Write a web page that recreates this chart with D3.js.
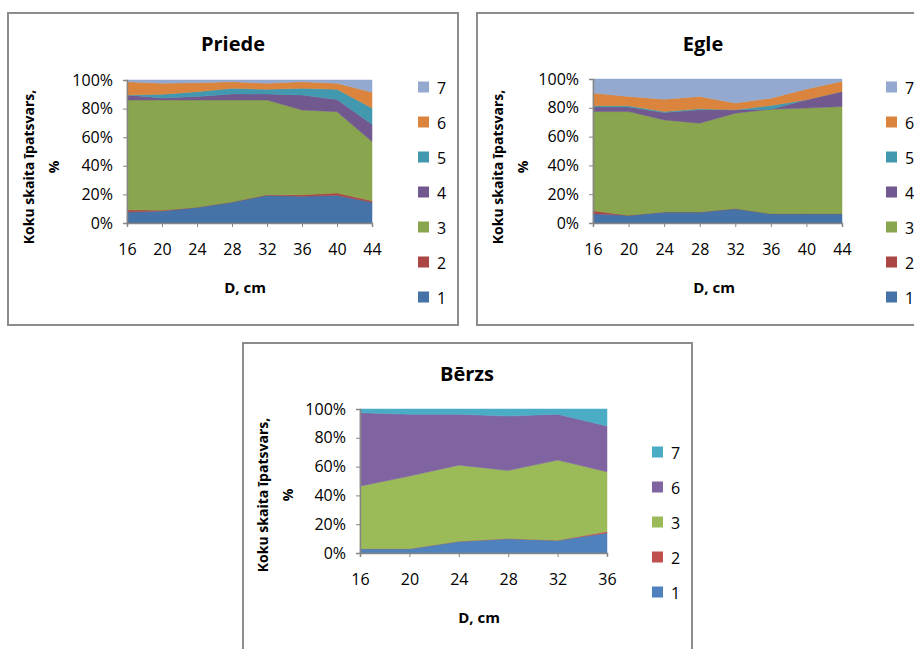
<!DOCTYPE html>
<html>
<head>
<meta charset="utf-8">
<script src="https://cdn.jsdelivr.net/npm/d3@7"></script>
<style>
  html, body { margin: 0; padding: 0; background: #fff; }
  svg { display: block; font-family: "Open Sans", "Noto Sans", sans-serif; }
</style>
</head>
<body>
<svg id="chart" width="914" height="649"></svg>
<script>
// ---------- data ----------
const diametersPE = [16, 20, 24, 28, 32, 36, 40, 44];
const diametersB = [16, 20, 24, 28, 32, 36];
const yTicks = [0, 20, 40, 60, 80, 100];

// Priede (share, %)
const priede1 = [7.7, 8.4, 11.0, 14.7, 19.4, 18.7, 19.4, 14.5];
const priede2 = [1.5, 0.5, 0.0, 0.0, 0.3, 1.0, 1.5, 1.0];
const priede3 = [76.8, 77.1, 75.0, 71.3, 66.3, 59.3, 56.9, 41.5];
const priede4 = [3.5, 1.5, 2.5, 4.2, 4.2, 10.5, 8.6, 12.0];
const priede5 = [0.0, 2.5, 3.3, 4.0, 3.3, 4.7, 7.1, 11.5];
const priede6 = [9.3, 7.7, 6.3, 4.6, 4.2, 4.6, 4.2, 11.0];
const priede7 = [1.2, 2.3, 1.9, 1.2, 2.3, 1.2, 2.3, 8.5];

// Egle
const egle1 = [6.5, 5.3, 7.7, 7.7, 10.0, 6.5, 6.5, 6.5];
const egle2 = [2.0, 0.0, 0.0, 0.0, 0.0, 0.0, 0.0, 0.0];
const egle3 = [68.9, 72.1, 63.9, 61.6, 66.3, 72.5, 73.3, 74.4];
const egle4 = [3.1, 3.1, 5.1, 9.3, 2.3, 0.0, 5.8, 10.5];
const egle5 = [0.9, 0.9, 0.7, 0.7, 0.0, 2.6, 0.0, 0.0];
const egle6 = [8.8, 6.5, 8.6, 8.6, 4.7, 5.1, 7.4, 7.0];
const egle7 = [9.8, 12.1, 14.0, 12.1, 16.7, 13.3, 7.0, 1.6];

// Bērzs
const berzs1 = [3.0, 3.0, 8.1, 10.0, 8.8, 13.9];
const berzs2 = [0.0, 0.0, 0.0, 0.0, 0.0, 1.0];
const berzs3 = [43.4, 50.4, 52.9, 47.3, 55.7, 41.5];
const berzs6 = [51.0, 42.9, 35.3, 37.8, 31.8, 31.8];
const berzs7 = [2.6, 3.7, 3.7, 4.9, 3.7, 11.8];

const keysPE = ["1", "2", "3", "4", "5", "6", "7"];
const keysB = ["1", "2", "3", "6", "7"];

const colorsPE = {"1": "#4572A7", "2": "#AA4643", "3": "#89A54E", "4": "#71588F",
                  "5": "#4198AF", "6": "#DB843D", "7": "#93A9CF"};
const colorsB = {"1": "#4F81BD", "2": "#C0504D", "3": "#9BBB59", "6": "#8064A2", "7": "#4BACC6"};

// ---------- drawing ----------
const svg = d3.select("#chart");

function buildRows(xs, keys, seriesArr) {
  return xs.map((x, i) => {
    const row = {d: x};
    keys.forEach((k, j) => row[k] = seriesArr[j][i]);
    return row;
  });
}

function drawChart(cfg) {
  const g = svg.append("g");
  // frame
  g.append("rect")
    .attr("x", cfg.box[0]).attr("y", cfg.box[1])
    .attr("width", cfg.box[2]).attr("height", cfg.box[3])
    .attr("fill", "#fff").attr("stroke", "#8c8c8c").attr("stroke-width", 2);

  const x = d3.scaleLinear().domain(d3.extent(cfg.xs)).range([cfg.plot[0], cfg.plot[1]]);
  const y = d3.scaleLinear().domain([0, 100]).range([cfg.plot[3], cfg.plot[2]]);

  const rows = buildRows(cfg.xs, cfg.keys, cfg.series);
  const stack = d3.stack().keys(cfg.keys)(rows);
  const area = d3.area()
    .x(d => x(d.data.d))
    .y0(d => y(d[0]))
    .y1(d => y(d[1]));

  g.selectAll("path.layer").data(stack).enter().append("path")
    .attr("class", "layer")
    .attr("d", area)
    .attr("fill", d => cfg.colors[d.key])
    .attr("stroke", d => cfg.colors[d.key])
    .attr("stroke-width", 0.5);

  // y axis
  const yAxis = d3.axisLeft(y).tickValues(yTicks).tickFormat(d => d + "%").tickSize(4).tickPadding(10);
  const ya = g.append("g").attr("transform", `translate(${cfg.plot[0]},0)`).call(yAxis);
  ya.select(".domain").attr("stroke", "#868686").attr("stroke-width", 1.5);
  ya.selectAll(".tick line").attr("stroke", "#868686");
  ya.selectAll("text").attr("font-size", 16).attr("fill", "#000")
    .attr("font-family", "'Open Sans', sans-serif");

  // x axis
  const xAxis = d3.axisBottom(x).tickValues(cfg.xs).tickFormat(d3.format("d")).tickSize(4).tickPadding(17);
  const xa = g.append("g").attr("transform", `translate(0,${cfg.plot[3]})`).call(xAxis);
  xa.select(".domain").attr("stroke", "#868686").attr("stroke-width", 1.5);
  xa.selectAll(".tick line").attr("stroke", "#868686");
  xa.selectAll("text").attr("font-size", 16).attr("fill", "#000")
    .attr("font-family", "'Open Sans', sans-serif");

  // title
  g.append("text").attr("x", cfg.title[1]).attr("y", cfg.title[2])
    .attr("text-anchor", "middle").attr("dominant-baseline", "central")
    .attr("font-size", 20).attr("font-weight", "bold").text(cfg.title[0]);

  // x axis title
  g.append("text").attr("x", cfg.xTitle[0]).attr("y", cfg.xTitle[1])
    .attr("text-anchor", "middle").attr("dominant-baseline", "central")
    .attr("font-size", 15).attr("font-weight", "bold").text("D, cm");

  // y axis title (two lines)
  const yt = g.append("text")
    .attr("transform", `translate(${cfg.yTitle[0]},${cfg.yTitle[1]}) rotate(-90)`)
    .attr("text-anchor", "middle").attr("font-size", 14).attr("font-weight", "bold");
  yt.append("tspan").attr("x", 0).attr("y", 0).attr("dominant-baseline", "central").text("Koku  skaita īpatsvars,");
  yt.append("tspan").attr("x", 0).attr("y", 25).attr("dominant-baseline", "central").text("%");

  // legend (reverse order, top = last key)
  const legKeys = cfg.keys.slice().reverse();
  const lg = g.append("g");
  legKeys.forEach((k, i) => {
    const cy = cfg.legend[1] + i * 35;
    lg.append("rect").attr("x", cfg.legend[0]).attr("y", cy - 5.5)
      .attr("width", 11).attr("height", 11).attr("fill", cfg.colors[k]);
    lg.append("text").attr("x", cfg.legend[0] + 19).attr("y", cy + 1)
      .attr("dominant-baseline", "central").attr("font-size", 16).text(k);
  });
}

drawChart({
  box: [8, 13, 450, 312],
  plot: [127, 372, 80, 223],
  xs: diametersPE, keys: keysPE,
  series: [priede1, priede2, priede3, priede4, priede5, priede6, priede7],
  colors: colorsPE,
  title: ["Priede", 233, 43],
  xTitle: [245, 287],
  yTitle: [28, 167],
  legend: [418, 87]
});

drawChart({
  box: [477, 13, 470, 312],
  plot: [593, 842, 79, 223],
  xs: diametersPE, keys: keysPE,
  series: [egle1, egle2, egle3, egle4, egle5, egle6, egle7],
  colors: colorsPE,
  title: ["Egle", 703, 43],
  xTitle: [714, 287],
  yTitle: [497, 167],
  legend: [886, 87]
});

drawChart({
  box: [243, 343, 449, 340],
  plot: [360, 607, 409, 553],
  xs: diametersB, keys: keysB,
  series: [berzs1, berzs2, berzs3, berzs6, berzs7],
  colors: colorsB,
  title: ["Bērzs", 467, 373],
  xTitle: [479, 617],
  yTitle: [262, 495],
  legend: [652, 452]
});
</script>
</body>
</html>
